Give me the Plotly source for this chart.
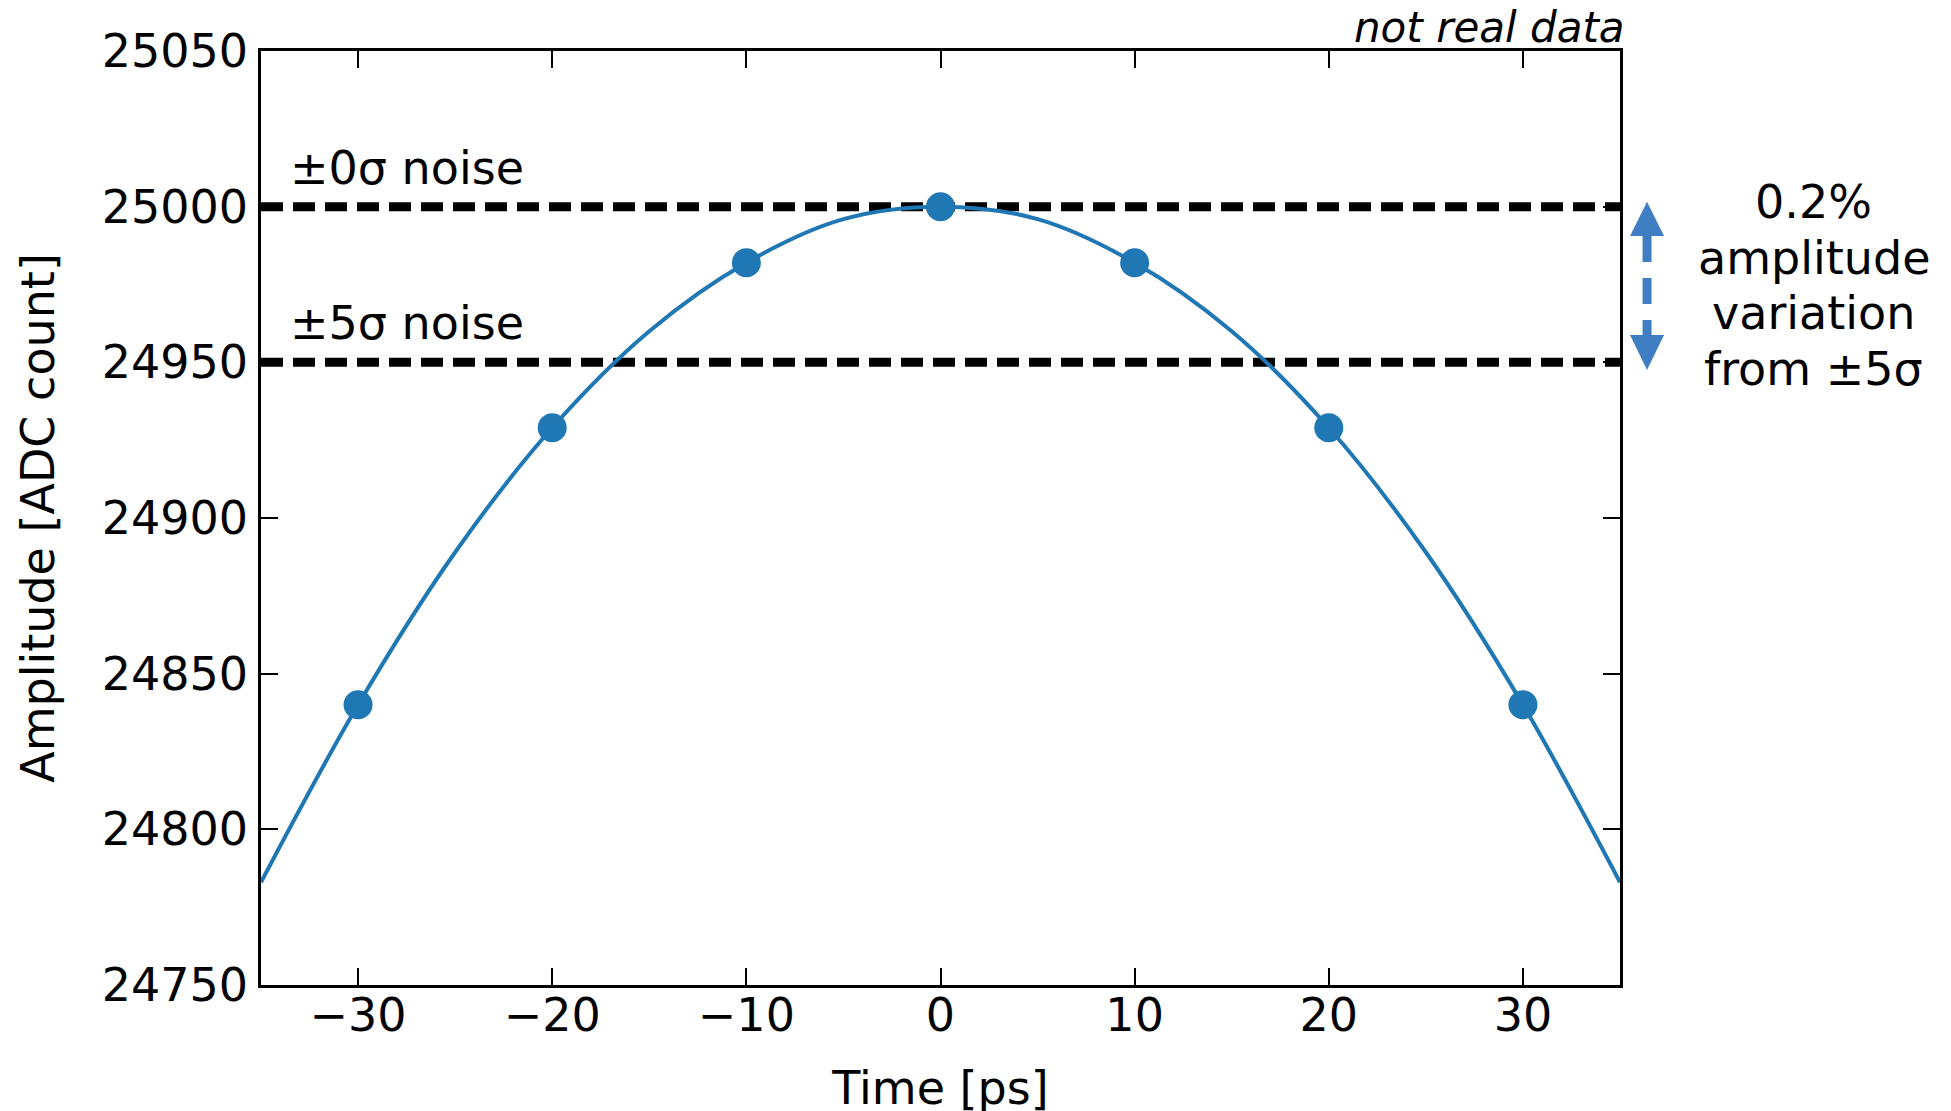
import plotly.graph_objects as go

# smooth curve (every 5 ps)
curve_t = [-35, -30, -25, -20, -15, -10, -5, 0, 5, 10, 15, 20, 25, 30, 35]
curve_amp = [24783, 24840, 24889, 24929, 24960, 24982, 24996, 25000,
             24996, 24982, 24960, 24929, 24889, 24840, 24783]

# sampled points
sample_t = [-30, -20, -10, 0, 10, 20, 30]
sample_amp = [24840, 24929, 24982, 25000, 24982, 24929, 24840]

# noise levels
noise_levels = [25000, 24950]
noise_labels = ["±0σ noise", "±5σ noise"]

side_lines = ["0.2%", "amplitude", "variation", "from ±5σ"]

x_range = [-35, 35]
y_range = [24750, 25050]
x_ticks = [-30, -20, -10, 0, 10, 20, 30]
y_ticks = [24750, 24800, 24850, 24900, 24950, 25000, 25050]

BLUE = "#1f77b4"
ARROW = "#3f7ec2"
FONT = "DejaVu Sans"

fig = go.Figure()

for lvl in noise_levels:
    fig.add_trace(go.Scatter(x=x_range, y=[lvl, lvl], mode="lines",
                             line=dict(color="black", width=9, dash="22px,10px"),
                             showlegend=False, hoverinfo="skip"))

fig.add_trace(go.Scatter(x=curve_t, y=curve_amp, mode="lines",
                         line=dict(color=BLUE, width=4, shape="spline"),
                         showlegend=False))
fig.add_trace(go.Scatter(x=sample_t, y=sample_amp, mode="markers",
                         marker=dict(color=BLUE, size=29),
                         showlegend=False, cliponaxis=False))

for lvl, txt in zip(noise_levels, noise_labels):
    fig.add_annotation(x=-33.6, y=lvl + 12.5, text=txt, showarrow=False,
                       xanchor="left", yanchor="middle",
                       font=dict(family=FONT, size=46, color="black"))


def yp(v):
    return (v - y_range[0]) / (y_range[1] - y_range[0])


# double arrow between the two noise levels (paper coords)
ax_c = 1.0199
hw = 0.0125
top_tip, top_base = yp(25001.6), yp(24990.6)
bot_tip, bot_base = yp(24947.5), yp(24958.8)
fig.add_shape(type="path", xref="paper", yref="paper",
              path=f"M {ax_c} {top_tip} L {ax_c - hw} {top_base} L {ax_c + hw} {top_base} Z",
              fillcolor=ARROW, line=dict(width=0))
fig.add_shape(type="path", xref="paper", yref="paper",
              path=f"M {ax_c} {bot_tip} L {ax_c - hw} {bot_base} L {ax_c + hw} {bot_base} Z",
              fillcolor=ARROW, line=dict(width=0))
fig.add_shape(type="line", xref="paper", yref="paper",
              x0=ax_c, x1=ax_c, y0=top_base, y1=bot_base,
              line=dict(color=ARROW, width=9, dash="26px,16px"))

# side note, one annotation per line to match the tight line spacing
plot_top, plot_h = 51, 934
for i, line in enumerate(side_lines):
    y_px = 202 + 55.5 * i
    fig.add_annotation(xref="paper", yref="paper", x=(1814 - 261) / 1359,
                       y=1 - (y_px - plot_top) / plot_h,
                       text=line, showarrow=False, xanchor="center", yanchor="middle",
                       font=dict(family=FONT, size=46, color="black"))

fig.add_annotation(xref="paper", yref="paper", x=1.0, y=1.0, xshift=7, yshift=-3,
                   text="<i>not real data</i>", showarrow=False,
                   xanchor="right", yanchor="bottom",
                   font=dict(family=FONT, size=42, color="black"))

axis_common = dict(showline=True, linecolor="black", linewidth=2.5, mirror="ticks",
                   ticks="inside", ticklen=17, tickwidth=2, tickcolor="black",
                   showgrid=False, zeroline=False, automargin=False,
                   tickfont=dict(family=FONT, size=46, color="black"))

fig.update_xaxes(range=x_range, tickvals=x_ticks, ticklabelstandoff=-12,
                 title=dict(text="Time [ps]", standoff=31,
                            font=dict(family=FONT, size=46, color="black")),
                 **axis_common)
fig.update_yaxes(range=y_range, tickvals=y_ticks, tickformat="d", ticklabelstandoff=1,
                 title=dict(text="Amplitude [ADC count]", standoff=33,
                            font=dict(family=FONT, size=46, color="black")),
                 **axis_common)

# page body adds an 8px offset, margins compensate for it
fig.update_layout(width=1951, height=1111,
                  margin=dict(l=253, r=339, t=43, b=134),
                  plot_bgcolor="white", paper_bgcolor="white",
                  font=dict(family=FONT, color="black"))

fig.write_html("out.html")
